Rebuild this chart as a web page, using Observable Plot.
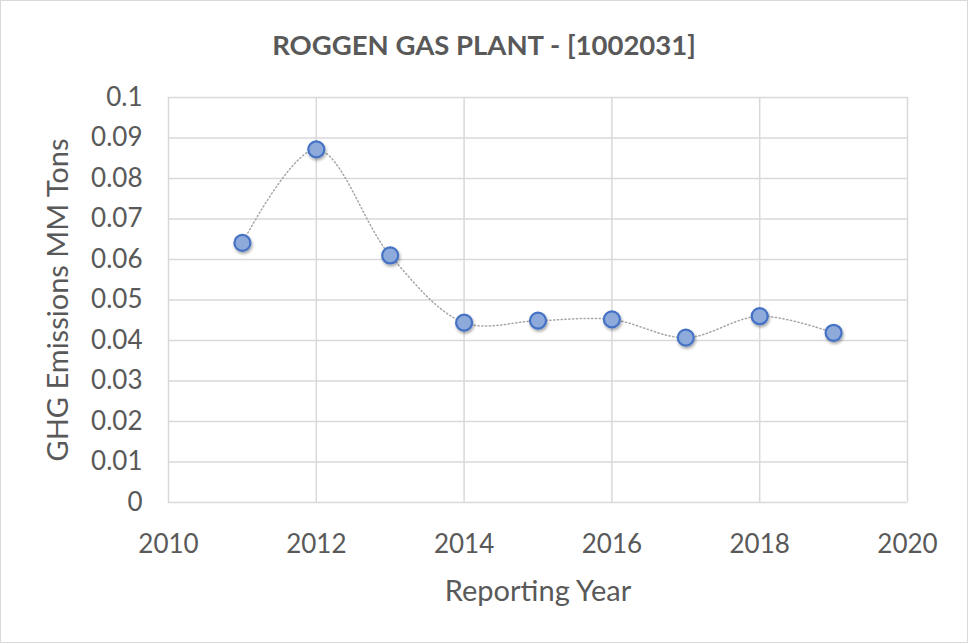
<!DOCTYPE html>
<html>
<head>
<meta charset="utf-8">
<script src="https://cdn.jsdelivr.net/npm/d3@7"></script>
<script src="https://cdn.jsdelivr.net/npm/@observablehq/plot@0.6"></script>
<style>
  html, body { margin: 0; padding: 0; background: #fff; }
  #wrap { position: relative; width: 966px; height: 641px; border: 1px solid #d9d9d9; background: #fff; overflow: hidden; }
  #title { height: 79px; line-height: 88px; text-align: center; font-family: Lato, sans-serif; font-weight: bold; font-size: 27.5px; color: #595959; }
  #chart svg { display: block; }
</style>
</head>
<body>
<div id="wrap">
  <div id="title">ROGGEN GAS PLANT - [1002031]</div>
  <div id="chart"></div>
</div>
<script>
const years = [2011, 2012, 2013, 2014, 2015, 2016, 2017, 2018, 2019];
const emissions = [0.0641, 0.0872, 0.0610, 0.0444, 0.0449, 0.0452, 0.0407, 0.0460, 0.0419];
const xTicks = [2010, 2012, 2014, 2016, 2018, 2020];
const yTicks = [0, 0.01, 0.02, 0.03, 0.04, 0.05, 0.06, 0.07, 0.08, 0.09, 0.1];
const xGrid = [2010, 2012, 2014, 2016, 2018, 2020];

const data = years.map((y, i) => ({year: y, value: emissions[i]}));

const chart = Plot.plot({
  width: 966,
  height: 562,
  marginTop: 17,
  marginLeft: 167,
  marginRight: 60,
  marginBottom: 140,
  style: {fontFamily: "Lato, sans-serif", fontSize: "26px", color: "#595959", background: "#fff"},
  x: {domain: [2010, 2020], ticks: xTicks, tickFormat: "d", tickSize: 0, tickPadding: 32, label: "Reporting Year", labelAnchor: "center", labelArrow: "none", labelOffset: 98},
  y: {domain: [0, 0.1], ticks: yTicks, tickFormat: d => String(+d.toFixed(2)), tickSize: 0, tickPadding: 26, label: "GHG Emissions MM Tons", labelAnchor: "center", labelArrow: "none", labelOffset: 121},
  marks: [
    Plot.ruleY(yTicks, {stroke: "#d9d9d9", strokeWidth: 1.5}),
    Plot.ruleX(xGrid, {stroke: "#d9d9d9", strokeWidth: 1.5}),
    Plot.line(data, {x: "year", y: "value", curve: "catmull-rom", stroke: "#a6a6a6", strokeWidth: 1.5, strokeDasharray: "1.2,2.6", strokeLinecap: "round"}),
    Plot.dot(data, {x: "year", y: "value", r: 8, fill: "#8eaadb", stroke: "#4472c4", strokeWidth: 2.2, className: "pts"})
  ]
});
document.getElementById("chart").appendChild(chart);
const svg = d3.select(chart);
svg.append("defs").html('<filter id="sh" x="-50%" y="-50%" width="200%" height="200%"><feDropShadow dx="1" dy="2" stdDeviation="1.5" flood-color="#000" flood-opacity="0.35"/></filter>');
svg.selectAll("g.pts circle").attr("filter", "url(#sh)");
svg.selectAll("[aria-label='x-axis label'] text, [aria-label='y-axis label'] text").attr("font-size", "29px");
svg.selectAll("[aria-label='x-axis label'], [aria-label='y-axis label']").attr("font-size", "29px");
</script>
</body>
</html>
